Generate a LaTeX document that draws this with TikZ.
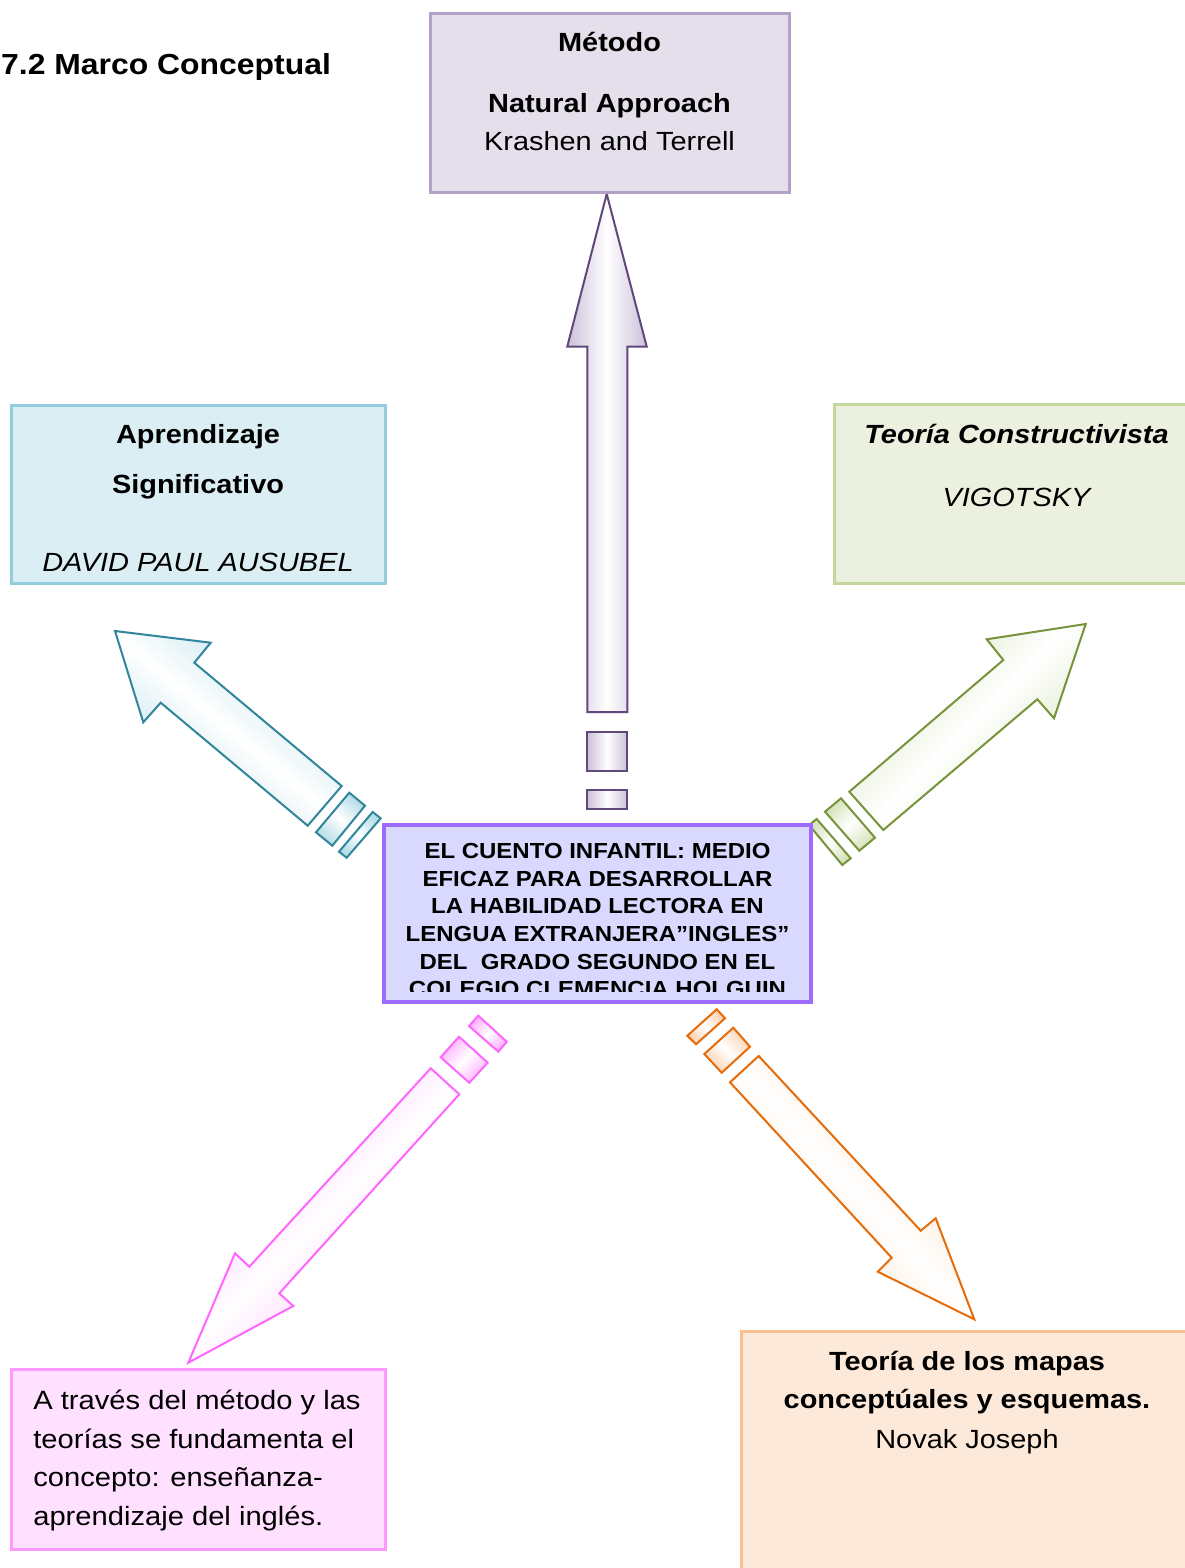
\documentclass[tikz,border=0pt]{standalone}
\usepackage{fontspec}
\setmainfont{Liberation Sans}[FakeStretch=1.1]
\definecolor{metodoFill}{HTML}{E5DFEC}
\definecolor{metodoDraw}{HTML}{B3A2C7}
\definecolor{tealFill}{HTML}{DAEEF3}
\definecolor{tealDraw}{HTML}{93CDDD}
\definecolor{greenFill}{HTML}{EBF1DE}
\definecolor{greenDraw}{HTML}{C3D69B}
\definecolor{centerFill}{HTML}{D9D9FF}
\definecolor{centerDraw}{HTML}{9D6CFF}
\definecolor{pinkFill}{HTML}{FFE1FF}
\definecolor{pinkDraw}{HTML}{FF99FF}
\definecolor{orangeFill}{HTML}{FDE9D9}
\definecolor{orangeDraw}{HTML}{FAC090}
\definecolor{vArrow}{HTML}{5F497A}
\definecolor{tArrow}{HTML}{31859C}
\definecolor{gArrow}{HTML}{77933C}
\definecolor{pArrow}{HTML}{FF66FF}
\definecolor{oArrow}{HTML}{E46C0A}
\definecolor{vShade}{HTML}{CCC0DA}
\definecolor{tShade}{HTML}{B6DDE8}
\definecolor{gShade}{HTML}{D7E4BD}
\definecolor{pShade}{HTML}{FFB3FF}
\definecolor{oShade}{HTML}{FBD4B4}
\newcommand\szBox{\fontsize{26.3pt}{31pt}\selectfont}
\newcommand\szPink{\fontsize{26.5pt}{31pt}\selectfont}
\newcommand\szCenter{\fontsize{21.8pt}{27.7pt}\selectfont}
\newcommand\szTitle{\fontsize{29pt}{34pt}\selectfont}
\begin{document}
\begin{tikzpicture}[x=1pt,y=-1pt,
  box/.style={rectangle, inner sep=0pt, outer sep=0pt, line width=3pt, anchor=north west},
  txt/.style={inner sep=0pt, outer sep=0pt, anchor=base, font=\szBox},
  txtb/.style={txt, font=\szBox\bfseries},
  txti/.style={txt, font=\szBox\itshape},
  txtbi/.style={txt, font=\szBox\bfseries\itshape},
  ctxt/.style={inner sep=0pt, outer sep=0pt, anchor=base, font=\szCenter\bfseries},
  ptxt/.style={inner sep=0pt, outer sep=0pt, anchor=base west, font=\szPink},
  blockarrow/.style n args={3}{draw=#1, line width=2pt, left color=#2, right color=#2, middle color=white, shading angle=#3}
]
\useasboundingbox[fill=white] (0,0) rectangle (1184,1568);

% ---------- block arrows ----------
% vertical (Metodo)
\draw[blockarrow={vArrow}{vShade}{90}] (587.3,712) -- (587.3,346.5) -- (567.3,346.5) -- (606.7,194) -- (646.7,346.5) -- (627.3,346.5) -- (627.3,712) -- cycle;
\draw[blockarrow={vArrow}{vShade}{90}] (587.3,732) rectangle (627.3,770.5);
\draw[blockarrow={vArrow}{vShade}{90}] (587.3,790) rectangle (627.3,808.5);
% teal (upper left)
\draw[blockarrow={tArrow}{tShade}{140}] (115,631) -- (210.7,642.7) -- (194.3,662.7) -- (341.7,786) -- (307.7,825.7) -- (160.7,702.7) -- (143.3,722.3) -- cycle;
\draw[blockarrow={tArrow}{tShade}{140}] (349.3,792.7) -- (365,805.7) -- (332.3,845.7) -- (316,832.3) -- cycle;
\draw[blockarrow={tArrow}{tShade}{140}] (372.7,812) -- (380.7,818.3) -- (346.7,857.7) -- (339,851.7) -- cycle;
% green (upper right)
\draw[blockarrow={gArrow}{gShade}{45}] (1085.7,624) -- (986.7,639.3) -- (1003.3,660) -- (849.3,791.7) -- (883.3,830) -- (1037.3,699.3) -- (1054,718.3) -- cycle;
\draw[blockarrow={gArrow}{gShade}{45}] (825,811.7) -- (841,798.3) -- (875,837.7) -- (859.3,850.7) -- cycle;
\draw[blockarrow={gArrow}{gShade}{45}] (809,825) -- (816.7,819) -- (850.7,858.3) -- (842.3,865) -- cycle;
% pink (lower left)
\draw[blockarrow={pArrow}{pShade}{225}] (188.3,1362.7) -- (235,1253.3) -- (249.3,1266.7) -- (430.7,1068.3) -- (459.3,1094.3) -- (279.3,1293.3) -- (293.3,1306) -- cycle;
\draw[blockarrow={pArrow}{pShade}{225}] (440.7,1057.3) -- (459,1036.7) -- (487.7,1062.7) -- (469.3,1082.7) -- cycle;
\draw[blockarrow={pArrow}{pShade}{225}] (469,1026) -- (478.3,1015.7) -- (506.7,1041.7) -- (498.3,1051.7) -- cycle;
% orange (lower right)
\draw[blockarrow={oArrow}{oShade}{-47}] (974.3,1319.3) -- (877.7,1271.7) -- (891.7,1257.7) -- (730,1082.3) -- (758.7,1056) -- (920.7,1230.7) -- (935.7,1218.3) -- cycle;
\draw[blockarrow={oArrow}{oShade}{-47}] (704.3,1054) -- (733.3,1027.7) -- (750,1046.7) -- (721.7,1072.7) -- cycle;
\draw[blockarrow={oArrow}{oShade}{-47}] (687.3,1035.7) -- (716.7,1009.3) -- (725,1018.3) -- (696,1044.3) -- cycle;

% ---------- title ----------
\node[inner sep=0pt, anchor=base west, font=\szTitle\bfseries] (title) at (1,75) {7.2 Marco Conceptual};

% ---------- boxes ----------
\node[box, draw=metodoDraw, fill=metodoFill, minimum width=359pt, minimum height=179pt] (metodo) at (430,13.5) {};
\node[box, draw=tealDraw, fill=tealFill, minimum width=374pt, minimum height=178.5pt] (ausubel) at (11,405) {};
\node[box, draw=greenDraw, fill=greenFill, minimum width=364pt, minimum height=179pt] (vigotsky) at (834.5,404.5) {};
\node[box, draw=centerDraw, fill=centerFill, line width=4pt, minimum width=427pt, minimum height=177pt] (cuento) at (384,825) {};
\node[box, draw=pinkDraw, fill=pinkFill, minimum width=374pt, minimum height=179.5pt] (concepto) at (11,1369.5) {};
\node[box, draw=orangeDraw, fill=orangeFill, minimum width=453pt, minimum height=280pt] (novak) at (741,1331.5) {};

% ---------- texts ----------
\node[txtb] (m1) at (609.5,51.7) {Método};
\node[txtb] (m2) at (609.5,113) {Natural Approach};
\node[txt]  (m3) at (609.5,150) {Krashen and Terrell};

\node[txtb] (a1) at (198,443) {Aprendizaje};
\node[txtb] (a2) at (198,493) {Significativo};
\node[txti] (a3) at (198,571) {DAVID PAUL AUSUBEL};

\node[txtbi] (g1) at (1016.5,443) {Teoría Constructivista};
\node[txti]  (g2) at (1016.5,506.5) {VIGOTSKY};

\begin{scope}
\clip (386,827) rectangle (809,991.7);
\node[ctxt] (c1) at (597.5,858.3) {EL CUENTO INFANTIL: MEDIO};
\node[ctxt] (c2) at (597.5,886) {EFICAZ PARA DESARROLLAR};
\node[ctxt] (c3) at (597.5,913.7) {LA HABILIDAD LECTORA EN};
\node[ctxt] (c4) at (597.5,941.3) {LENGUA EXTRANJERA”INGLES”};
\node[ctxt] (c5) at (597.5,969) {DEL\ \ GRADO SEGUNDO EN EL};
\node[ctxt] (c6) at (597.5,996.7) {COLEGIO CLEMENCIA HOLGUIN};
\end{scope}

\node[ptxt] (p1) at (33.3,1409.3) {A través del método y las};
\node[ptxt] (p2) at (33.3,1448.3) {teorías se fundamenta el};
\node[ptxt] (p3) at (33.3,1486.7) {concepto: enseñanza-};
\node[ptxt] (p4) at (33.3,1525.7) {aprendizaje del inglés.};

\node[txtb] (o1) at (967,1370) {Teoría de los mapas};
\node[txtb] (o2) at (967,1408.3) {conceptúales y esquemas.};
\node[txt]  (o3) at (967,1448.3) {Novak Joseph};
\end{tikzpicture}
\end{document}
